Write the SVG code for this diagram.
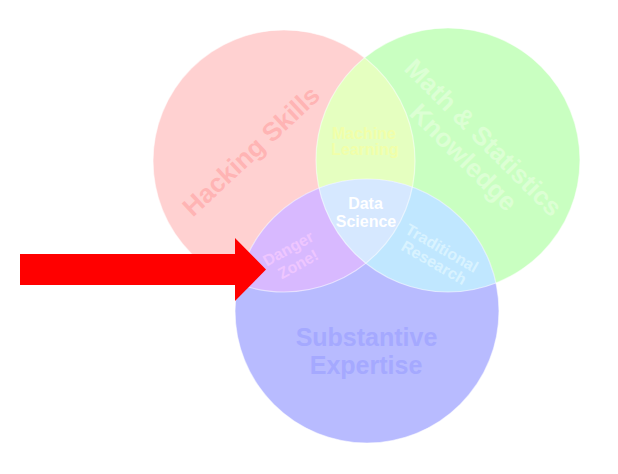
<svg xmlns="http://www.w3.org/2000/svg" width="618" height="474" viewBox="0 0 618 474">
<style>
  .lbl{font-family:"Liberation Sans",Arial,Helvetica,sans-serif;font-weight:bold;text-anchor:middle}
  .big{font-size:26px}
  .sm{font-size:16px}
  .edge{fill:none;stroke:#ffffff;stroke-opacity:0.55;stroke-width:1.2}
</style>
<defs>
  <clipPath id="cR"><circle cx="284" cy="161" r="131"/></clipPath>
  <clipPath id="cG"><circle cx="448" cy="160" r="132"/></clipPath>
</defs>
<rect width="618" height="474" fill="#ffffff"/>
<g id="hacking-skills">
  <circle cx="284" cy="161" r="131" fill="#FFD1D1"/>
</g>
<g id="math-statistics">
  <circle cx="448" cy="160" r="132" fill="#C9FFC1"/>
</g>
<g id="substantive-expertise">
  <circle cx="367" cy="311" r="132" fill="#B8BBFF"/>
</g>
<g id="machine-learning">
  <circle cx="448" cy="160" r="132" fill="#E5FFC0" clip-path="url(#cR)"/>
</g>
<g id="danger-zone">
  <circle cx="367" cy="311" r="132" fill="#D8B9FF" clip-path="url(#cR)"/>
</g>
<g id="traditional-research">
  <circle cx="367" cy="311" r="132" fill="#C0E7FF" clip-path="url(#cG)"/>
</g>
<g id="data-science">
  <g clip-path="url(#cR)">
    <circle cx="367" cy="311" r="132" fill="#D6E8FF" clip-path="url(#cG)"/>
  </g>
</g>
<g id="edges">
  <circle class="edge" cx="284" cy="161" r="131"/>
  <circle class="edge" cx="448" cy="160" r="132"/>
  <circle class="edge" cx="367" cy="311" r="132"/>
</g>
<g id="labels">
  <text class="lbl big" fill="#FFB4B4" transform="translate(251,151) rotate(-43)" x="0" y="9">Hacking Skills</text>
  <g transform="translate(474,147) rotate(45)" fill="#DCFFD4" class="lbl big">
    <text x="0" y="-4.5">Math &amp; Statistics</text>
    <text x="0" y="23.5">Knowledge</text>
  </g>
  <text class="lbl sm" fill="#F1FFA9" x="364" y="138.5">Machine</text>
  <text class="lbl sm" fill="#F1FFA9" x="365" y="154.5">Learning</text>
  <text class="lbl sm" fill="#FFFFFF" x="365.5" y="208.5">Data</text>
  <text class="lbl sm" fill="#FFFFFF" x="366" y="226.5">Science</text>
  <g transform="translate(293,256) rotate(-29)" fill="#EEC6FF" class="lbl sm">
    <text x="-0.7" y="-3.3">Danger</text>
    <text x="0.5" y="15">Zone!</text>
  </g>
  <g transform="translate(438,255) rotate(30)" fill="#D9F3FF" class="lbl sm">
    <text x="0" y="-2.3">Traditional</text>
    <text x="0.3" y="14.2">Research</text>
  </g>
  <text class="lbl" font-size="25" fill="#A5A9FF" x="366.5" y="345.5">Substantive</text>
  <text class="lbl" font-size="25" fill="#A5A9FF" x="366" y="374">Expertise</text>
</g>
<g id="connectors">
  <polygon points="20,254 235,254 235,238 266,269.5 235,301 235,285 20,285" fill="#FF0000"/>
</g>
</svg>
